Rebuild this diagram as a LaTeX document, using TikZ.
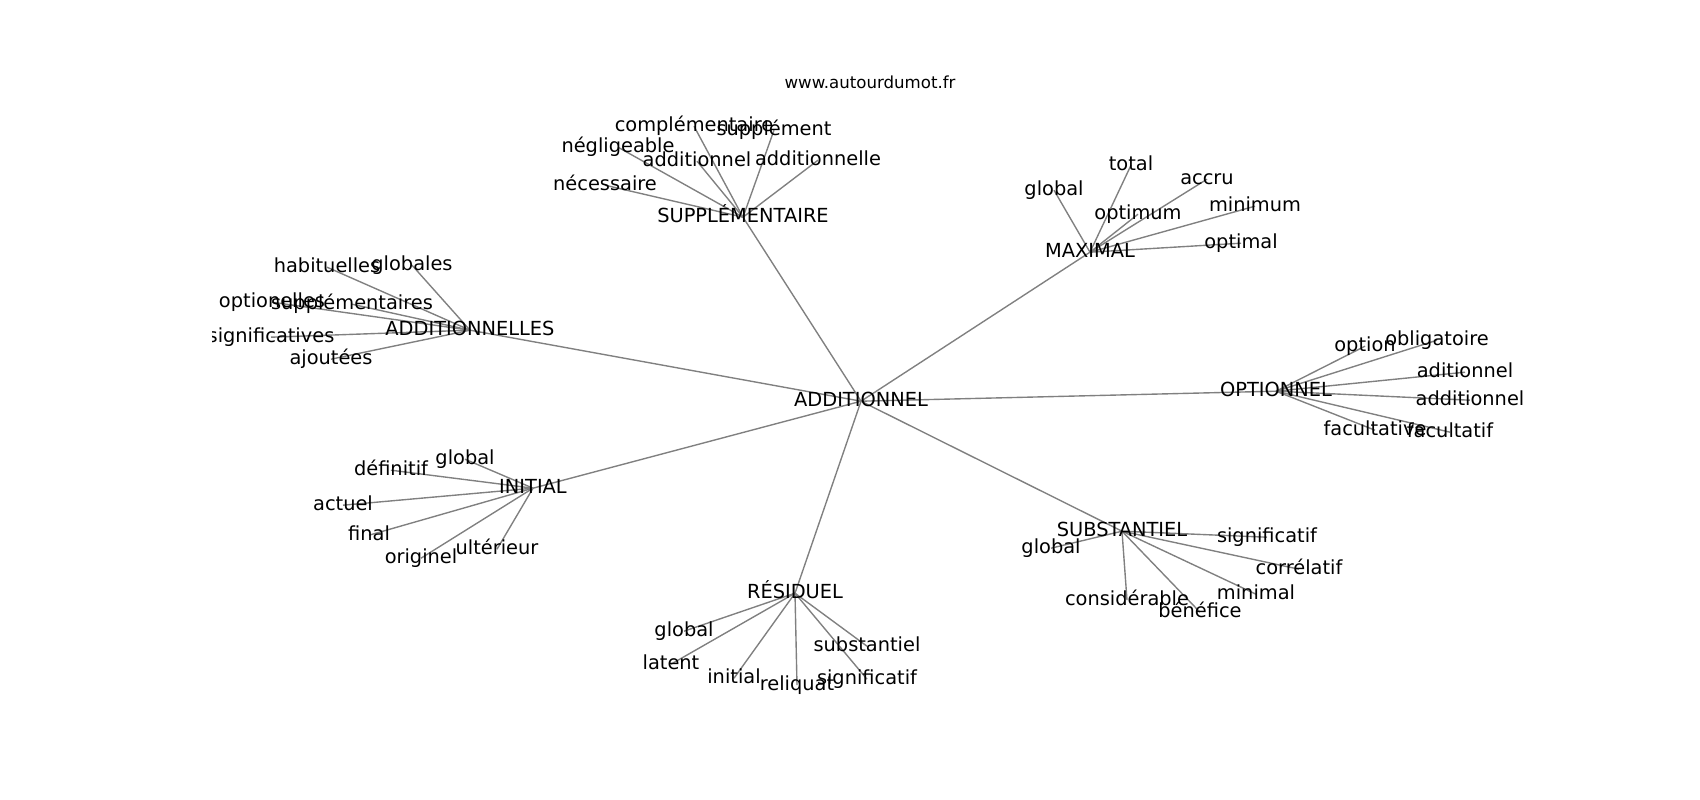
\documentclass[tikz,border=0pt]{standalone}
\usepackage{fontspec}
\setmainfont{DejaVu Sans}
\usetikzlibrary{backgrounds}
\definecolor{edgegray}{RGB}{128,128,128}
\begin{document}
\begin{tikzpicture}[x=0.01in,y=-0.01in,
  lbl/.style={inner sep=0pt,text height=10.6pt,text depth=3.3pt,font=\fontsize{14}{16}\selectfont},
  ttl/.style={inner sep=0pt,font=\fontsize{12}{14}\selectfont},
  edge/.style={draw=edgegray,line width=1pt}]
\useasboundingbox (0,0) rectangle (1700,800);
\node[ttl] (title) at (870,82) {www.autourdumot.fr};
\begin{scope}
\clip (212.5,96) rectangle (1530,704);
\begin{scope}[shift={(0,2.2)}]
% centre
\node[lbl] (a0) at (861,399) {ADDITIONNEL};
% hubs
\node[lbl] (sup) at (743,215) {SUPPLÉMENTAIRE};
\node[lbl] (max) at (1090,250) {MAXIMAL};
\node[lbl] (adds) at (470,328) {ADDITIONNELLES};
\node[lbl] (opt) at (1276,389) {OPTIONNEL};
\node[lbl] (ini) at (533,486) {INITIAL};
\node[lbl] (sub) at (1122,529) {SUBSTANTIEL};
\node[lbl] (res) at (795,591) {RÉSIDUEL};
% SUPPLEMENTAIRE leaves
\node[lbl] (s1) at (694,124) {complémentaire};
\node[lbl] (s2) at (774,128) {supplément};
\node[lbl] (s3) at (618,145) {négligeable};
\node[lbl] (s4) at (697,159) {additionnel};
\node[lbl] (s5) at (818,158) {additionnelle};
\node[lbl] (s6) at (605,183) {nécessaire};
% MAXIMAL leaves
\node[lbl] (m1) at (1054,188) {global};
\node[lbl] (m2) at (1131,163) {total};
\node[lbl] (m3) at (1207,177) {accru};
\node[lbl] (m4) at (1138,212) {optimum};
\node[lbl] (m5) at (1255,204) {minimum};
\node[lbl] (m6) at (1241,241) {optimal};
% ADDITIONNELLES leaves
\node[lbl] (d1) at (327,265) {habituelles};
\node[lbl] (d2) at (412,263) {globales};
\node[lbl] (d3) at (272,300) {optionelles};
\node[lbl] (d4) at (352,302) {supplémentaires};
\node[lbl] (d5) at (271,335) {significatives};
\node[lbl] (d6) at (331,357) {ajoutées};
% OPTIONNEL leaves
\node[lbl] (o1) at (1365,344) {option};
\node[lbl] (o2) at (1437,338) {obligatoire};
\node[lbl] (o3) at (1465,370) {aditionnel};
\node[lbl] (o4) at (1470,398) {additionnel};
\node[lbl] (o5) at (1375,428) {facultative};
\node[lbl] (o6) at (1450,430) {facultatif};
% INITIAL leaves
\node[lbl] (i1) at (465,457) {global};
\node[lbl] (i2) at (391,468) {définitif};
\node[lbl] (i3) at (343,503) {actuel};
\node[lbl] (i4) at (369,533) {final};
\node[lbl] (i5) at (421,556) {originel};
\node[lbl] (i6) at (497,547) {ultérieur};
% SUBSTANTIEL leaves
\node[lbl] (b1) at (1051,546) {global};
\node[lbl] (b2) at (1267,535) {significatif};
\node[lbl] (b3) at (1299,567) {corrélatif};
\node[lbl] (b4) at (1256,592) {minimal};
\node[lbl] (b5) at (1127,598) {considérable};
\node[lbl] (b6) at (1200,610) {bénéfice};
% RESIDUEL leaves
\node[lbl] (r1) at (684,629) {global};
\node[lbl] (r2) at (671,662) {latent};
\node[lbl] (r3) at (734,676) {initial};
\node[lbl] (r4) at (797,683) {reliquat};
\node[lbl] (r5) at (867,644) {substantiel};
\node[lbl] (r6) at (867,677) {significatif};
\end{scope}
\end{scope}
\begin{scope}[on background layer]
\foreach \h in {sup,max,adds,opt,ini,sub,res}
  \draw[edge] (a0.center) -- (\h.center);
\foreach \l in {s1,s2,s3,s4,s5,s6} \draw[edge] (sup.center) -- (\l.center);
\foreach \l in {m1,m2,m3,m4,m5,m6} \draw[edge] (max.center) -- (\l.center);
\foreach \l in {d1,d2,d3,d4,d5,d6} \draw[edge] (adds.center) -- (\l.center);
\foreach \l in {o1,o2,o3,o4,o5,o6} \draw[edge] (opt.center) -- (\l.center);
\foreach \l in {i1,i2,i3,i4,i5,i6} \draw[edge] (ini.center) -- (\l.center);
\foreach \l in {b1,b2,b3,b4,b5,b6} \draw[edge] (sub.center) -- (\l.center);
\foreach \l in {r1,r2,r3,r4,r5,r6} \draw[edge] (res.center) -- (\l.center);
\end{scope}
\end{tikzpicture}
\end{document}
